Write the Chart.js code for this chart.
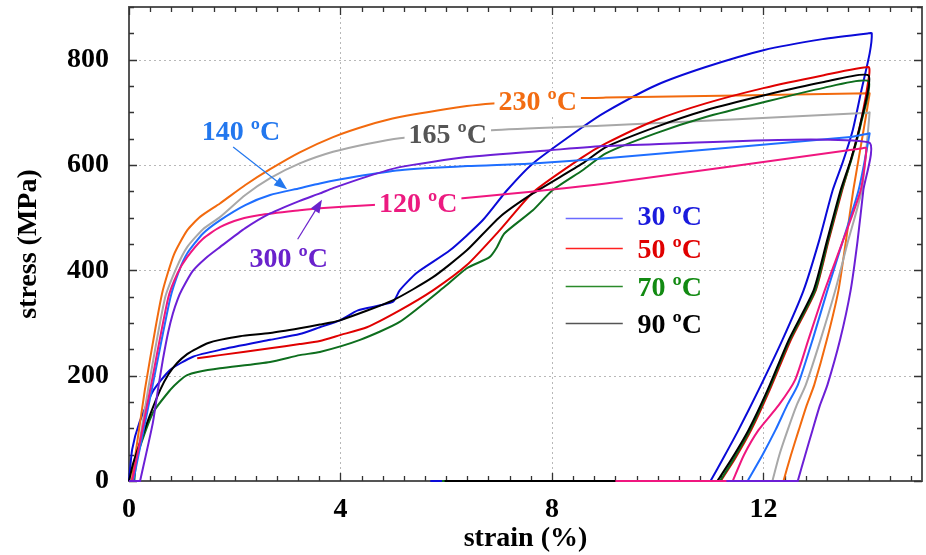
<!DOCTYPE html>
<html><head><meta charset="utf-8">
<script src="https://cdn.jsdelivr.net/npm/chart.js@4/dist/chart.umd.min.js"></script>
<style>html,body{margin:0;padding:0;background:#fff;}canvas{display:block;}</style>
</head><body>
<canvas id="c" width="926" height="555"></canvas>
<script>
// ---- data (strain %, stress MPa) ----
const strain30 = [0,0.06,0.2,0.45,0.78,1.21,1.72,2.67,3.23,3.61,3.99,4.33,4.99,5.12,5.44,6.07,6.69,7.15,7.64,8.58,9.02,9.96,10.91,12.0,13.12,13.99,14.05,14.01,13.85,13.69,13.5,13.31,13.05,12.76,12.36,11.91,11.53,11.25,11.0,11.0,5.7];
const stress30 = [0,60,112,170,211,236,249,268,279,292,305,324,340,362,395,438,495,552,603,672,701,751,786,818,839,850,850,812,740,666,605,552,455,362,268,173,97,45,0,0,0];
const strain50 = [1.29,1.72,2.67,3.23,3.61,3.99,4.5,5.12,5.75,6.39,7.01,7.64,8.58,9.02,9.96,10.91,12.0,13.12,13.99,14.0,13.86,13.68,13.49,13.23,12.99,12.52,12.12,11.77,11.46,11.19];
const stress50 = [233,239,252,260,266,277,292,324,362,410,476,548,615,641,685,717,746,770,786,770,690,618,552,455,362,268,173,97,42,0];
const strain70 = [0.1,0.15,0.45,0.78,0.95,1.1,1.3,1.72,2.67,3.23,3.61,4.37,5.12,6.01,6.39,6.82,6.96,7.1,7.64,8.01,8.58,9.02,9.96,10.91,12.0,13.12,13.99,13.85,13.67,13.48,13.22,12.98,12.5,12.1,11.75,11.44,11.18,11.18,5.92];
const stress70 = [0,46,129,173,190,201,207,214,226,239,245,268,302,372,404,425,444,470,514,552,590,622,660,691,719,746,759,680,612,552,455,362,268,173,97,42,0,0,0];
const strain90 = [0,0.08,0.34,0.59,0.75,0.91,1.1,1.29,1.5,1.72,2.1,2.67,3.23,3.61,3.99,4.99,5.75,6.39,7.01,7.64,8.58,9.02,9.96,10.91,12.0,13.12,13.99,13.84,13.66,13.46,13.2,12.95,12.48,12.08,11.72,11.4,11.13,11.13,5.97];
const stress90 = [0,34,110,173,203,224,241,252,262,268,275,281,290,297,305,343,387,438,501,546,603,634,672,704,732,757,770,680,612,552,455,362,268,173,97,42,0,0,0];
const strain120 = [0.06,0.4,0.74,0.92,1.1,1.4,1.72,2.1,2.48,3.23,3.61,4.61,6.31,9.02,13.88,13.95,13.84,13.5,13.16,12.85,12.6,12.29,11.91,11.63,11.42,11.42,9.2];
const stress120 = [0,173,347,395,425,460,482,497,505,514,518,524,537,565,632,632,552,455,362,268,192,144,97,49,0,0,0];
const strain140 = [0.08,0.43,0.78,0.95,1.1,1.4,1.72,2.2,2.67,3.23,3.61,4.3,5.12,6.4,7.64,9.02,13.65,13.99,14.01,13.8,13.5,13.21,12.93,12.65,12.45,12.23,11.98,11.7,11.7,10.0];
const stress140 = [0,173,347,400,432,470,495,524,543,556,565,578,590,598,603,613,653,660,660,552,455,362,268,182,144,97,49,0,0,0];
const strain165 = [0.08,0.36,0.68,0.9,1.1,1.4,1.72,2.2,2.67,3.23,3.86,4.5,5.12,6.86,9.02,13.99,14.01,13.86,13.6,13.36,13.08,12.8,12.63,12.46,12.3,12.17];
const stress165 = [0,173,347,405,444,478,501,543,575,603,625,640,651,666,675,699,700,552,455,362,268,182,144,97,49,0];
const strain230 = [0.05,0.3,0.5,0.64,0.85,1.1,1.35,1.72,2.2,2.67,3.23,3.86,4.5,5.12,6.39,6.88,8.56,9.02,13.99,14.01,13.85,13.7,13.56,13.42,13.2,12.96,12.82,12.67,12.52,12.38];
const stress230 = [0,173,290,362,430,476,502,527,562,592,624,653,675,691,712,717,727,728,736,736,640,552,455,362,268,182,144,97,49,0];
const strain300 = [0,0.21,0.21,0.45,0.55,0.64,0.74,0.83,0.92,1.0,1.2,1.45,1.72,2.2,2.67,3.23,3.61,3.86,4.5,5.12,6.39,7.96,9.02,13.99,13.89,13.78,13.65,13.45,13.21,13.07,12.93,12.79,12.65,12.65,11.3];
const stress300 = [0,0,0,110,175,230,282,318,345,363,398,423,444,480,508,532,546,556,578,596,615,628,636,643,552,455,362,268,182,144,97,49,0,0,0];

const xTicks = [0,4,8,12];
const yTicks = [0,200,400,600,800];
const seriesLabels = ['30 ºC','90 ºC','70 ºC','50 ºC','300 ºC','120 ºC','140 ºC','165 ºC','230 ºC'];
const seriesX = [strain30,strain90,strain70,strain50,strain300,strain120,strain140,strain165,strain230];
const seriesY = [stress30,stress90,stress70,stress50,stress300,stress120,stress140,stress165,stress230];
const seriesColors = ['#0a0ad8','#000000','#0e6e1e','#e00000','#6c1fd6','#f0167f','#1e6eff','#a8a8a8','#f26a0e'];
const seriesLayer = [2,1,1,1,0,0,0,1,1];

const FONT_FAMILY = "'Liberation Serif','Times New Roman',serif";
const FONT = "bold 28px " + FONT_FAMILY;

// annotations in data units
const annotations = [
  {text:'230 ºC', x:7.73, y:704, color:'#f26c12', mask:true},
  {text:'165 ºC', x:6.03, y:642, color:'#555555', mask:true},
  {text:'120 ºC', x:5.47, y:511, color:'#ec1a80', mask:true},
  {text:'140 ºC', x:2.12, y:647, color:'#2277ee', mask:false},
  {text:'300 ºC', x:3.02, y:406, color:'#6a22cc', mask:false}
];
const arrows = [
  {from:[1.97,634], to:[2.99,554], color:'#2277ee'},
  {from:[3.19,459], to:[3.65,534], color:'#6a22cc'}
];
const legendItems = [
  {text:'30 ºC', lineY:499, textY:486, line:'#6a6aff', color:'#1a1add'},
  {text:'50 ºC', lineY:442, textY:423, line:'#ff2020', color:'#e00000'},
  {text:'70 ºC', lineY:370, textY:351, line:'#2a8a2a', color:'#128a12'},
  {text:'90 ºC', lineY:300, textY:281, line:'#555555', color:'#000000'}
];
const legendLineX = [8.26, 9.34];
const legendTextX = 9.62;

const datasets = seriesX.map((xs,i)=>({
  label: seriesLabels[i],
  data: xs.map((x,j)=>({x:x, y:seriesY[i][j]})),
  borderColor: seriesColors[i],
  borderWidth: 2,
  pointRadius: 0,
  tension: 0.2,
  fill: false,
  clip: false,
  order: seriesLayer[i]
}));

const deco = {
  id:'deco',
  beforeDatasetsDraw(chart){
    const {ctx, chartArea:a, scales:{x,y}} = chart;
    ctx.save();
    ctx.strokeStyle = '#b8b8b8'; ctx.lineWidth = 1; ctx.setLineDash([2,3]);
    xTicks.forEach(v=>{ if(v===0) return; const p=Math.round(x.getPixelForValue(v))+0.5;
      ctx.beginPath(); ctx.moveTo(p,a.top); ctx.lineTo(p,a.bottom); ctx.stroke(); });
    yTicks.forEach(v=>{ if(v===0) return; const p=Math.round(y.getPixelForValue(v))+0.5;
      ctx.beginPath(); ctx.moveTo(a.left,p); ctx.lineTo(a.right,p); ctx.stroke(); });
    ctx.setLineDash([]);
    ctx.strokeStyle = '#555'; ctx.lineWidth = 2;
    ctx.strokeRect(a.left, a.top, a.right-a.left, a.bottom-a.top);
    ctx.strokeStyle = '#333'; ctx.lineWidth = 1.3;
    for (let i=0; i<=Math.round(x.max/0.4); i++){
      const v = i*0.4; if (v > x.max) break;
      const major = Math.abs(v/4 - Math.round(v/4)) < 1e-6;
      const L = major ? 8 : 5;
      const p = Math.round(x.getPixelForValue(v))+0.5;
      ctx.beginPath(); ctx.moveTo(p,a.bottom); ctx.lineTo(p,a.bottom-L);
      ctx.moveTo(p,a.top); ctx.lineTo(p,a.top+L); ctx.stroke();
    }
    for (let v=0; v<=y.max; v+=50){
      const major = v%200===0;
      const L = major ? 8 : 5;
      const p = Math.round(y.getPixelForValue(v))+0.5;
      ctx.beginPath(); ctx.moveTo(a.left,p); ctx.lineTo(a.left+L,p);
      ctx.moveTo(a.right,p); ctx.lineTo(a.right-L,p); ctx.stroke();
    }
    ctx.restore();
  },
  afterDatasetsDraw(chart){
    const {ctx, scales:{x,y}} = chart;
    ctx.save();
    ctx.font = FONT; ctx.textAlign='center'; ctx.textBaseline='alphabetic';
    annotations.forEach(an=>{
      const px = x.getPixelForValue(an.x), py = y.getPixelForValue(an.y);
      if (an.mask){ const w = ctx.measureText(an.text).width; ctx.fillStyle='#fff'; ctx.fillRect(px-w/2-4, py-22, w+8, 26); }
      ctx.fillStyle = an.color; ctx.fillText(an.text, px, py);
    });
    arrows.forEach(ar=>{
      const x1=x.getPixelForValue(ar.from[0]), y1=y.getPixelForValue(ar.from[1]);
      const x2=x.getPixelForValue(ar.to[0]), y2=y.getPixelForValue(ar.to[1]);
      const ang = Math.atan2(y2-y1, x2-x1), hl=13, hw=5;
      ctx.strokeStyle=ar.color; ctx.fillStyle=ar.color; ctx.lineWidth=1.2;
      ctx.beginPath(); ctx.moveTo(x1,y1); ctx.lineTo(x2-hl*Math.cos(ang)*0.8, y2-hl*Math.sin(ang)*0.8); ctx.stroke();
      ctx.beginPath(); ctx.moveTo(x2,y2);
      ctx.lineTo(x2-hl*Math.cos(ang)+hw*Math.sin(ang), y2-hl*Math.sin(ang)-hw*Math.cos(ang));
      ctx.lineTo(x2-hl*Math.cos(ang)-hw*Math.sin(ang), y2-hl*Math.sin(ang)+hw*Math.cos(ang));
      ctx.closePath(); ctx.fill();
    });
    legendItems.forEach(it=>{
      const ly = Math.round(y.getPixelForValue(it.lineY))+0.5;
      ctx.strokeStyle = it.line; ctx.lineWidth = 1.5;
      ctx.beginPath(); ctx.moveTo(x.getPixelForValue(legendLineX[0]), ly); ctx.lineTo(x.getPixelForValue(legendLineX[1]), ly); ctx.stroke();
      ctx.fillStyle = it.color; ctx.textAlign='left';
      ctx.fillText(it.text, x.getPixelForValue(legendTextX), y.getPixelForValue(it.textY));
    });
    ctx.restore();
  }
};

const tickFont = {family: FONT_FAMILY, size: 28, weight: 'bold'};
const titleFont = {family: FONT_FAMILY, size: 28, weight: 'bold', lineHeight: 1.1};
new Chart(document.getElementById('c'), {
  type: 'line',
  data: {datasets},
  options: {
    responsive: false, animation: false,
    layout: {padding: {top: 7, right: 4, left: 0, bottom: 0}},
    plugins: {legend: {display: false}, tooltip: {enabled: false}},
    scales: {
      x: {
        type: 'linear', min: 0, max: 15,
        afterBuildTicks: s => { s.ticks = xTicks.map(v=>({value:v})); },
        afterFit: s => { s.height = 74; s.paddingLeft = 0; s.paddingRight = 0; },
        grid: {display: false, drawTicks: false},
        border: {display: false},
        ticks: {font: tickFont, color: '#000', padding: 12, maxRotation: 0},
        title: {display: true, text: 'strain (%)', font: titleFont, color: '#000', padding: {top: 0, bottom: 1}}
      },
      y: {
        type: 'linear', min: 0, max: 900,
        afterBuildTicks: s => { s.ticks = yTicks.map(v=>({value:v})); },
        afterFit: s => { s.width = 129; s.paddingTop = 0; s.paddingBottom = 0; },
        grid: {display: false, drawTicks: false},
        border: {display: false},
        ticks: {font: tickFont, color: '#000', padding: 20},
        title: {display: true, text: 'stress (MPa)', font: tickFont, color: '#000', padding: {top: 12, bottom: 0}}
      }
    }
  },
  plugins: [deco]
});
</script>
</body></html>
